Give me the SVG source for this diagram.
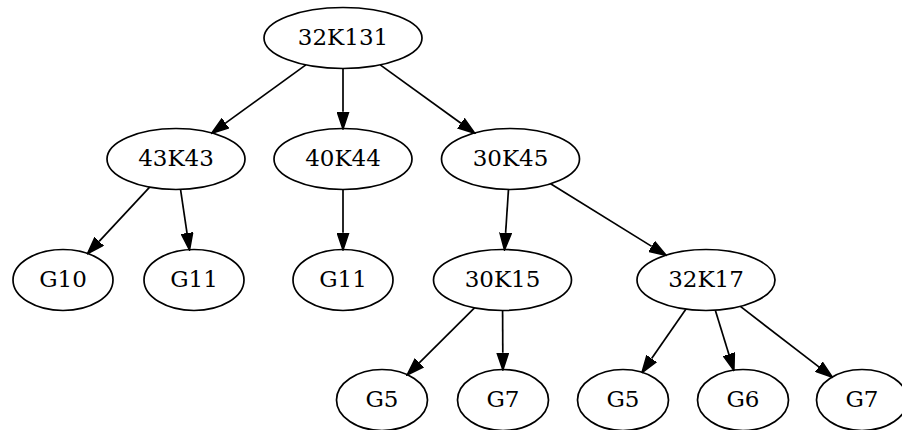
<svg xmlns="http://www.w3.org/2000/svg" width="902" height="430" viewBox="0 0 902 430">
<style>
.n ellipse{fill:none;stroke:#000;stroke-width:1.7}
.n text{font-family:"DejaVu Serif",serif;font-size:23px;text-anchor:middle;fill:#000}
#edges line{stroke:#000;stroke-width:1.7;marker-end:url(#ah)}
</style>
<defs>
<marker id="ah" markerUnits="userSpaceOnUse" markerWidth="18" markerHeight="13" refX="0" refY="6.5" orient="auto" viewBox="0 0 18 13">
<path d="M0.5,0.9 L17.2,6.5 L0.5,12.1 Z" fill="#000" stroke="#000" stroke-width="1.5"/>
</marker>
</defs>
<rect width="902" height="430" fill="#fff"/>
<g id="edges">
<line x1="305.85" y1="64.92" x2="225.47" y2="123.16"/>
<line x1="343" y1="68.5" x2="343" y2="111.8"/>
<line x1="380.24" y1="64.90" x2="460.94" y2="123.20"/>
<line x1="149.67" y1="187.19" x2="99.15" y2="241.30"/>
<line x1="180.53" y1="189.43" x2="187.02" y2="233.10"/>
<line x1="343" y1="189.5" x2="343" y2="232.8"/>
<line x1="508.48" y1="189.49" x2="505.62" y2="232.85"/>
<line x1="550.60" y1="183.82" x2="651.70" y2="246.39"/>
<line x1="474.50" y1="307.88" x2="419.24" y2="362.92"/>
<line x1="502.6" y1="310.5" x2="502.8" y2="352.8"/>
<line x1="685.83" y1="309.17" x2="651.64" y2="358.60"/>
<line x1="715.32" y1="310.22" x2="728.87" y2="354.17"/>
<line x1="740.38" y1="306.44" x2="818.87" y2="366.83"/>
</g>
<g id="n32K131" class="n"><ellipse cx="343" cy="38" rx="79" ry="30.5"/><text x="343" y="45">32K131</text></g>
<g id="n43K43" class="n"><ellipse cx="176" cy="159" rx="69" ry="30.5"/><text x="176" y="166">43K43</text></g>
<g id="n40K44" class="n"><ellipse cx="343" cy="159" rx="69" ry="30.5"/><text x="343" y="166">40K44</text></g>
<g id="n30K45" class="n"><ellipse cx="510.5" cy="159" rx="69" ry="30.5"/><text x="510.5" y="166">30K45</text></g>
<g id="nG10" class="n"><ellipse cx="63" cy="280" rx="50" ry="30.5"/><text x="63" y="287">G10</text></g>
<g id="nG11a" class="n"><ellipse cx="194" cy="280" rx="50" ry="30.5"/><text x="194" y="287">G11</text></g>
<g id="nG11b" class="n"><ellipse cx="343" cy="280" rx="50" ry="30.5"/><text x="343" y="287">G11</text></g>
<g id="n30K15" class="n"><ellipse cx="502.5" cy="280" rx="69" ry="30.5"/><text x="502.5" y="287">30K15</text></g>
<g id="n32K17" class="n"><ellipse cx="706" cy="280" rx="69" ry="30.5"/><text x="706" y="287">32K17</text></g>
<g id="nG5a" class="n"><ellipse cx="382" cy="400" rx="45.5" ry="30.5"/><text x="382" y="407">G5</text></g>
<g id="nG7a" class="n"><ellipse cx="503" cy="400" rx="45.5" ry="30.5"/><text x="503" y="407">G7</text></g>
<g id="nG5b" class="n"><ellipse cx="623" cy="400" rx="45.5" ry="30.5"/><text x="623" y="407">G5</text></g>
<g id="nG6" class="n"><ellipse cx="743" cy="400" rx="45.5" ry="30.5"/><text x="743" y="407">G6</text></g>
<g id="nG7b" class="n"><ellipse cx="862" cy="400" rx="45.5" ry="30.5"/><text x="862" y="407">G7</text></g>
</svg>
